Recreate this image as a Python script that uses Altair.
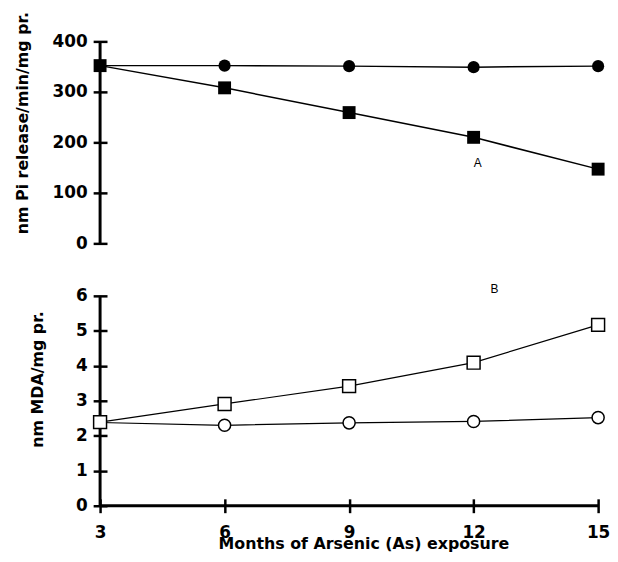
import altair as alt
import pandas as pd

months = [3, 6, 9, 12, 15]
pi_control = [352, 352, 351, 349, 351]
pi_arsenic = [352, 308, 259, 210, 147]
mda_control = [2.38, 2.30, 2.37, 2.41, 2.52]
mda_arsenic = [2.39, 2.91, 3.42, 4.09, 5.17]

panel_labels = ["A", "B"]
label_x = [12.1, 12.5]
label_y = [159, 6.2]

x_ticks = [3, 6, 9, 12, 15]
top_ticks = [0, 100, 200, 300, 400]
bottom_ticks = [0, 1, 2, 3, 4, 5, 6]

FONT = "DejaVu Sans"
W = 503

df_top = pd.DataFrame({"m": months, "c": pi_control, "a": pi_arsenic})
df_bot = pd.DataFrame({"m": months, "c": mda_control, "a": mda_arsenic})

xscale = alt.Scale(domain=[x_ticks[0], x_ticks[-1]], nice=False, zero=False)
yscale_top = alt.Scale(domain=[top_ticks[0], top_ticks[-1]], nice=False)
yscale_bot = alt.Scale(domain=[bottom_ticks[0], bottom_ticks[-1]], nice=False)

yaxis_common = dict(
    domain=False, grid=False, tickSize=14, offset=-7, tickWidth=2.5, tickColor="black",
    labelFont=FONT, labelFontSize=17, labelFontWeight="bold", labelColor="black",
    labelPadding=6, labelOverlap=False, labelFlush=False,
    titleFont=FONT, titleFontSize=16, titleFontWeight="bold",
    titleColor="black", titleAngle=270, titleBaseline="alphabetic", titleAlign="center",
)

ax_top = alt.Axis(values=top_ticks, title="nm Pi release/min/mg pr.",
                  titleX=-80, titleY=82, **yaxis_common)
ax_bot = alt.Axis(values=bottom_ticks, title="nm MDA/mg pr.",
                  titleX=-65, titleY=84, **yaxis_common)
ax_x = alt.Axis(
    values=x_ticks, domain=False, grid=False, tickSize=14, offset=-7, tickWidth=2.5,
    tickColor="black", labelFont=FONT, labelFontSize=17, labelFontWeight="bold",
    labelColor="black", labelPadding=12, labelOverlap=False, labelFlush=False,
    title="Months of Arsenic (As) exposure",
    titleFont=FONT, titleFontSize=16, titleFontWeight="bold", titleColor="black",
    titleX=266, titleY=50, titleBaseline="alphabetic",
)


def xt(field):
    return alt.X(field, scale=xscale, axis=None)


def yt(field):
    return alt.Y(field, scale=yscale_top, axis=ax_top)


def xb(field):
    return alt.X(field, scale=xscale, axis=ax_x)


def yb(field):
    return alt.Y(field, scale=yscale_bot, axis=ax_bot)


# axis line extents (from the tick arrays)
top_vline = pd.DataFrame({"x": [x_ticks[0]], "y0": [top_ticks[0]], "y1": [top_ticks[-1]]})
bot_vline = pd.DataFrame({"x": [x_ticks[0]], "y0": [bottom_ticks[0]], "y1": [bottom_ticks[-1]]})
bot_hline = pd.DataFrame({"y": [bottom_ticks[0]], "x0": [x_ticks[0]], "x1": [x_ticks[-1]]})

# ---- top panel ----
base_top = alt.Chart(df_top)
top_c_line = base_top.mark_line(color="black", strokeWidth=1.5).encode(x=xt("m:Q"), y=yt("c:Q"))
top_domain = alt.Chart(top_vline).mark_rule(color="black", strokeWidth=3).encode(
    x=xt("x:Q"), y=yt("y0:Q"), y2="y1:Q"
)
top_c_pts = base_top.mark_point(shape="circle", filled=True, size=150, color="black", opacity=1).encode(
    x=xt("m:Q"), y=yt("c:Q")
)
top_a_line = base_top.mark_line(color="black", strokeWidth=1.5).encode(x=xt("m:Q"), y=yt("a:Q"))
top_a_pts = base_top.mark_point(shape="square", filled=True, size=170, color="black", opacity=1).encode(
    x=xt("m:Q"), y=yt("a:Q")
)
top_lbl = alt.Chart(pd.DataFrame({"t": [panel_labels[0]], "x": [label_x[0]], "y": [label_y[0]]})).mark_text(
    font="Liberation Sans", fontSize=12, color="black"
).encode(x=xt("x:Q"), y=yt("y:Q"), text="t:N")

top = alt.layer(top_c_line, top_domain, top_a_line, top_c_pts, top_a_pts, top_lbl).properties(
    width=W, height=204
)

# ---- bottom panel ----
base_bot = alt.Chart(df_bot)
bot_c_line = base_bot.mark_line(color="black", strokeWidth=1.2).encode(x=xb("m:Q"), y=yb("c:Q"))
bot_ydomain = alt.Chart(bot_vline).mark_rule(color="black", strokeWidth=3).encode(
    x=xb("x:Q"), y=yb("y0:Q"), y2="y1:Q"
)
bot_xdomain = alt.Chart(bot_hline).mark_rule(color="black", strokeWidth=3).encode(
    y=yb("y:Q"), x=xb("x0:Q"), x2="x1:Q"
)
bot_c_pts = base_bot.mark_point(shape="circle", filled=True, size=150, fill="white",
                                stroke="black", strokeWidth=1.5, opacity=1).encode(
    x=xb("m:Q"), y=yb("c:Q")
)
bot_a_line = base_bot.mark_line(color="black", strokeWidth=1.2).encode(x=xb("m:Q"), y=yb("a:Q"))
bot_a_pts = base_bot.mark_point(shape="square", filled=True, size=170, fill="white",
                                stroke="black", strokeWidth=1.5, opacity=1).encode(
    x=xb("m:Q"), y=yb("a:Q")
)
bot_lbl = alt.Chart(pd.DataFrame({"t": [panel_labels[1]], "x": [label_x[1]], "y": [label_y[1]]})).mark_text(
    font="Liberation Sans", fontSize=12, color="black"
).encode(x=xb("x:Q"), y=yb("y:Q"), text="t:N")

bottom = alt.layer(bot_c_line, bot_ydomain, bot_xdomain, bot_a_line, bot_c_pts, bot_a_pts, bot_lbl).properties(
    width=W, height=212
)

chart = alt.vconcat(top, bottom, spacing=31).properties(
    background="white",
    padding={"left": 7, "top": 0, "right": 0, "bottom": 0},
).configure_view(stroke=None).configure_axis(grid=False)

chart.save("out.html", embed_options={"renderer": "svg", "actions": False})
